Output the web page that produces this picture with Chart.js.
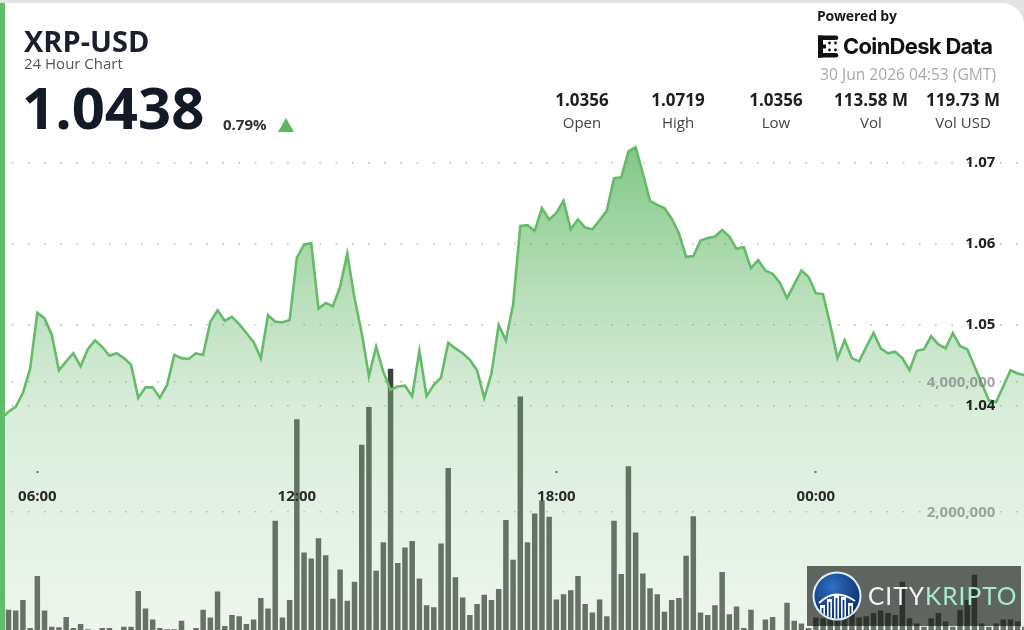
<!DOCTYPE html>
<html>
<head>
<meta charset="utf-8">
<title>XRP-USD 24 Hour Chart</title>
<script src="https://cdn.jsdelivr.net/npm/chart.js@4.4.1/dist/chart.umd.min.js"></script>
<style>
  html, body { margin: 0; padding: 0; overflow: hidden; background: #e3e3e3; }
  #page { position: relative; width: 1024px; height: 630px; overflow: hidden; font-family: 'Open Sans', sans-serif; }
  #card { position: absolute; left: 0; top: 3px; width: 1024px; height: 660px; background: #fff; border-top-right-radius: 22px; }
  #stripe { position: absolute; left: 0; top: 3px; width: 5px; height: 627px; background: #5fbd6b; z-index: 3; }
  #chart { position: absolute; left: 0; top: 0; z-index: 1; }
  .t { position: absolute; line-height: 1; white-space: nowrap; z-index: 2; }
  #sym { left: 24px; top: 25.6px; font-size: 29px; font-weight: 700; color: #1b1f2b; }
  #sub { left: 24px; top: 55.7px; font-size: 15px; color: #555; }
  #last { left: 22px; top: 78.2px; font-size: 58px; font-weight: 700; color: #131a26; }
  #chg { left: 223px; top: 117.4px; font-size: 15px; font-weight: 700; color: #333; }
  #tri { position: absolute; left: 278px; top: 118px; width: 0; height: 0; z-index: 2;
         border-left: 8.5px solid transparent; border-right: 8.5px solid transparent; border-bottom: 14px solid #5cb85c; }
  #pow { left: 817px; top: 9.3px; font-size: 14px; font-weight: 700; letter-spacing: -0.2px; color: #1a1a1a; }
  #cdlogo { position: absolute; left: 817px; top: 35px; z-index: 2; }
  #cdd { left: 843px; top: 35.3px; font-family: Inter, sans-serif; font-size: 22px; font-weight: 700; letter-spacing: -0.7px; color: #111; }
  #date { right: 28px; top: 67.2px; font-size: 15.6px; color: #a8a8a8; }
  .sv { top: 91px; width: 110px; text-align: center; font-size: 17px; font-weight: 700; color: #1e1e1e; }
  .sl { top: 114.5px; width: 110px; text-align: center; font-size: 15px; color: #444; }
  #wm { position: absolute; left: 807px; top: 566px; width: 214px; height: 60px; background: rgba(12,12,12,0.62); z-index: 4; }
  #wmlogo { position: absolute; left: 4px; top: 4px; }
  #wmtext { position: absolute; left: 61px; top: 18px; font-family: Lato, sans-serif; font-size: 24.5px; letter-spacing: 1px; line-height: 1; white-space: nowrap; }
</style>
</head>
<body>
<div id="page">
  <div id="card"></div>
  <canvas id="chart" width="1026" height="656"></canvas>
  <div id="stripe"></div>

  <div class="t" id="sym">XRP-USD</div>
  <div class="t" id="sub">24 Hour Chart</div>
  <div class="t" id="last">1.0438</div>
  <div class="t" id="chg">0.79%</div>
  <div id="tri"></div>

  <div class="t" id="pow">Powered by</div>
  <svg id="cdlogo" width="24" height="23" viewBox="0 0 24 23">
    <rect x="1" y="0.5" width="5" height="22" fill="#111"/>
    <rect x="1" y="0.5" width="17" height="4.5" fill="#111"/>
    <circle cx="19" cy="2.75" r="2.25" fill="#111"/>
    <rect x="1" y="18" width="17" height="4.5" fill="#111"/>
    <circle cx="19" cy="20.25" r="2.25" fill="#111"/>
    <rect x="5" y="9.5" width="4" height="4" fill="#111"/>
    <circle cx="12.5" cy="8" r="1.4" fill="#111"/>
    <circle cx="18.5" cy="8" r="1.4" fill="#111"/>
    <circle cx="12.5" cy="15" r="1.4" fill="#111"/>
    <circle cx="18.5" cy="15" r="1.4" fill="#111"/>
  </svg>
  <div class="t" id="cdd">CoinDesk Data</div>
  <div class="t" id="date">30 Jun 2026 04:53 (GMT)</div>

  <div class="t sv" style="left:527px">1.0356</div>
  <div class="t sl" style="left:527px">Open</div>
  <div class="t sv" style="left:623px">1.0719</div>
  <div class="t sl" style="left:623px">High</div>
  <div class="t sv" style="left:721px">1.0356</div>
  <div class="t sl" style="left:721px">Low</div>
  <div class="t sv" style="left:816px">113.58 M</div>
  <div class="t sl" style="left:816px">Vol</div>
  <div class="t sv" style="left:908px">119.73 M</div>
  <div class="t sl" style="left:908px">Vol USD</div>

  <div id="wm">
    <svg id="wmlogo" width="52" height="52" viewBox="0 0 52 52">
      <defs>
        <radialGradient id="wmbg" cx="40%" cy="30%" r="75%">
          <stop offset="0" stop-color="#2f6fc4"/>
          <stop offset="1" stop-color="#0b2a66"/>
        </radialGradient>
        <clipPath id="wmclip"><circle cx="26" cy="26" r="22.5"/></clipPath>
      </defs>
      <circle cx="26" cy="26" r="24.5" fill="#d7eef4"/>
      <circle cx="26" cy="26" r="22.5" fill="url(#wmbg)"/>
      <g clip-path="url(#wmclip)" fill="#fff">
        <rect x="9" y="35" width="5" height="20"/>
        <rect x="16" y="29" width="5" height="26"/>
        <rect x="23" y="25" width="5" height="30"/>
        <rect x="30" y="27" width="5" height="28"/>
        <rect x="37" y="33" width="5" height="22"/>
      </g>
      <g clip-path="url(#wmclip)" fill="#123b85">
        <rect x="10.6" y="38" width="1.8" height="20"/>
        <rect x="17.6" y="32" width="1.8" height="26"/>
        <rect x="24.6" y="28" width="1.8" height="30"/>
        <rect x="31.6" y="30" width="1.8" height="28"/>
        <rect x="38.6" y="36" width="1.8" height="22"/>
      </g>
      <path d="M8 33 Q24 17 44 31" fill="none" stroke="#fff" stroke-width="2"/>
    </svg>
    <div id="wmtext"><span style="color:#f4f4f4">CITY</span><span style="color:#a6ead0">KRIPTO</span></div>
  </div>
</div>

<script>
// 10 minute samples, 05:10 -> 04:50
var times = [
  '05:10', '05:20', '05:30', '05:40', '05:50',
  '06:00', '06:10', '06:20', '06:30', '06:40', '06:50',
  '07:00', '07:10', '07:20', '07:30', '07:40', '07:50',
  '08:00', '08:10', '08:20', '08:30', '08:40', '08:50',
  '09:00', '09:10', '09:20', '09:30', '09:40', '09:50',
  '10:00', '10:10', '10:20', '10:30', '10:40', '10:50',
  '11:00', '11:10', '11:20', '11:30', '11:40', '11:50',
  '12:00', '12:10', '12:20', '12:30', '12:40', '12:50',
  '13:00', '13:10', '13:20', '13:30', '13:40', '13:50',
  '14:00', '14:10', '14:20', '14:30', '14:40', '14:50',
  '15:00', '15:10', '15:20', '15:30', '15:40', '15:50',
  '16:00', '16:10', '16:20', '16:30', '16:40', '16:50',
  '17:00', '17:10', '17:20', '17:30', '17:40', '17:50',
  '18:00', '18:10', '18:20', '18:30', '18:40', '18:50',
  '19:00', '19:10', '19:20', '19:30', '19:40', '19:50',
  '20:00', '20:10', '20:20', '20:30', '20:40', '20:50',
  '21:00', '21:10', '21:20', '21:30', '21:40', '21:50',
  '22:00', '22:10', '22:20', '22:30', '22:40', '22:50',
  '23:00', '23:10', '23:20', '23:30', '23:40', '23:50',
  '00:00', '00:10', '00:20', '00:30', '00:40', '00:50',
  '01:00', '01:10', '01:20', '01:30', '01:40', '01:50',
  '02:00', '02:10', '02:20', '02:30', '02:40', '02:50',
  '03:00', '03:10', '03:20', '03:30', '03:40', '03:50',
  '04:00', '04:10', '04:20', '04:30', '04:40', '04:50'
];

var prices = [
  1.0385, 1.0393, 1.0399, 1.0416, 1.0446, 1.0515, 1.0508, 1.0488, 1.0444, 1.0455,
  1.0465, 1.0449, 1.0470, 1.0481, 1.0473, 1.0462, 1.0465, 1.0459, 1.0451, 1.0410,
  1.0423, 1.0423, 1.0410, 1.0426, 1.0463, 1.0459, 1.0458, 1.0465, 1.0463, 1.0504,
  1.0518, 1.0505, 1.0510, 1.0501, 1.0490, 1.0479, 1.0459, 1.0512, 1.0504, 1.0503,
  1.0506, 1.0583, 1.0599, 1.0601, 1.0520, 1.0527, 1.0523, 1.0547, 1.0588, 1.0533,
  1.0490, 1.0437, 1.0473, 1.0442, 1.0420, 1.0424, 1.0425, 1.0412, 1.0468, 1.0412,
  1.0426, 1.0435, 1.0478, 1.0471, 1.0465, 1.0457, 1.0444, 1.0410, 1.0440, 1.0500,
  1.0481, 1.0525, 1.0622, 1.0623, 1.0616, 1.0644, 1.0630, 1.0638, 1.0653, 1.0618,
  1.0630, 1.0620, 1.0618, 1.0629, 1.0641, 1.0681, 1.0682, 1.0714, 1.0719, 1.0687,
  1.0653, 1.0648, 1.0644, 1.0631, 1.0613, 1.0584, 1.0585, 1.0604, 1.0607, 1.0609,
  1.0617, 1.0609, 1.0594, 1.0596, 1.0570, 1.0580, 1.0567, 1.0563, 1.0552, 1.0533,
  1.0550, 1.0567, 1.0559, 1.0539, 1.0538, 1.0500, 1.0459, 1.0481, 1.0459, 1.0455,
  1.0473, 1.0490, 1.0471, 1.0465, 1.0467, 1.0459, 1.0444, 1.0468, 1.0470, 1.0486,
  1.0476, 1.0471, 1.0490, 1.0474, 1.0470, 1.0449, 1.0428, 1.0407, 1.0405, 1.0424,
  1.0444, 1.0440, 1.0438
];

var volumes = [
  300000, 500000, 490000, 650000, 220000, 1020000, 490000, 240000, 230000, 390000,
  220000, 280000, 200000, 150000, 220000, 220000, 150000, 240000, 240000, 790000,
  520000, 350000, 220000, 200000, 200000, 330000, 150000, 220000, 500000, 380000,
  780000, 250000, 420000, 400000, 280000, 350000, 680000, 520000, 1870000, 380000,
  650000, 3430000, 1380000, 1290000, 1600000, 1340000, 670000, 1120000, 640000, 930000,
  3040000, 3620000, 1100000, 1540000, 4210000, 1220000, 1460000, 1560000, 980000, 570000,
  540000, 1520000, 2680000, 1000000, 690000, 420000, 590000, 730000, 650000, 820000,
  1880000, 1270000, 3780000, 1540000, 1980000, 2180000, 1930000, 660000, 740000, 800000,
  1020000, 590000, 460000, 660000, 400000, 1870000, 1050000, 2710000, 1690000, 1060000,
  830000, 740000, 470000, 650000, 680000, 1330000, 1940000, 460000, 420000, 570000,
  1080000, 430000, 550000, 220000, 500000, 150000, 350000, 390000, 150000, 610000,
  330000, 290000, 220000, 380000, 370000, 420000, 380000, 390000, 440000, 380000,
  400000, 450000, 490000, 450000, 420000, 930000, 370000, 290000, 240000, 370000,
  450000, 320000, 240000, 500000, 650000, 1040000, 290000, 240000, 290000, 350000,
  350000, 320000, 240000
];

var timeTicks = ['06:00', '12:00', '18:00', '00:00'];
var priceTicks = [1.04, 1.05, 1.06, 1.07];
var volumeTicks = [2000000, 4000000];

Chart.defaults.font.family = "'Open Sans', sans-serif";

function priceFill(context) {
  var chart = context.chart;
  var area = chart.chartArea;
  if (!area) return 'rgba(102,187,106,0.4)';
  var g = chart.ctx.createLinearGradient(0, area.top, 0, area.bottom);
  g.addColorStop(0, 'rgba(76,175,80,0.74)');
  g.addColorStop(0.23, 'rgba(88,180,92,0.52)');
  g.addColorStop(0.55, 'rgba(150,205,155,0.36)');
  g.addColorStop(1, 'rgba(200,225,200,0.31)');
  return g;
}

var dotGrid = { color: '#b8b8b8', lineWidth: 1.6, drawTicks: false };
var dotBorder = { display: false, dash: [1.6, 14.6], dashOffset: 5.8 };

new Chart(document.getElementById('chart'), {
  type: 'bar',
  data: {
    labels: times,
    datasets: [
      {
        type: 'line',
        label: 'Price',
        data: prices,
        yAxisID: 'y',
        borderColor: '#66bb6a',
        borderWidth: 2.6,
        pointRadius: 0,
        tension: 0,
        fill: 'start',
        backgroundColor: priceFill,
        order: 1
      },
      {
        type: 'bar',
        label: 'Volume',
        data: volumes,
        yAxisID: 'yv',
        backgroundColor: '#3d403d',
        borderWidth: 0,
        barPercentage: 0.76,
        categoryPercentage: 1,
        order: 2
      }
    ]
  },
  options: {
    responsive: false,
    devicePixelRatio: 1,
    animation: false,
    events: [],
    layout: { padding: { left: 1.3, right: 1.1, top: 130, bottom: 13.7 } },
    plugins: { legend: { display: false }, tooltip: { enabled: false } },
    scales: {
      x: {
        type: 'category',
        axis: 'x',
        position: { y: 1.031985 },
        offset: false,
        grid: { offset: false, drawOnChartArea: false, drawTicks: true, tickLength: 2, tickWidth: 2, tickColor: '#444' },
        border: { display: false },
        ticks: { autoSkip: false, maxRotation: 0, padding: 15, color: '#2a2a2a', font: { size: 15, weight: 'bold' }, z: 1 },
        afterBuildTicks: function(axis) {
          axis.ticks = axis.ticks.filter(function(t) { return timeTicks.indexOf(times[t.value]) !== -1; });
        }
      },
      y: {
        type: 'linear',
        axis: 'y',
        position: { x: 137.9 },
        min: 1.010863,
        max: 1.074032,
        grid: dotGrid,
        border: dotBorder,
        ticks: { padding: 0, color: '#222', font: { size: 15, weight: 'bold' }, z: 1,
                 callback: function(v) { return v.toFixed(2); } },
        afterBuildTicks: function(axis) {
          axis.ticks = priceTicks.map(function(v) { return { value: v }; });
        }
      },
      yv: {
        type: 'linear',
        axis: 'y',
        position: { x: 137.9 },
        min: 0,
        max: 7881500,
        grid: dotGrid,
        border: dotBorder,
        ticks: { padding: 0, color: 'rgba(120,120,120,0.65)', font: { size: 15, weight: 'bold' }, z: 1,
                 callback: function(v) { return v.toLocaleString('en-US'); } },
        afterBuildTicks: function(axis) {
          axis.ticks = volumeTicks.map(function(v) { return { value: v }; });
        }
      }
    }
  }
});
</script>
</body>
</html>
